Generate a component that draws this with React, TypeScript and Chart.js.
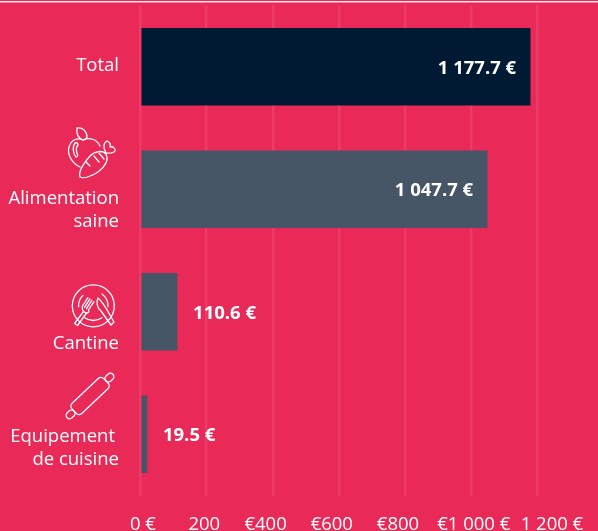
import React, { useEffect, useRef } from "react";
import { Chart, registerables } from "chart.js";

Chart.register(...registerables);

const categories = ["Total", "Alimentation saine", "Cantine", "Equipement de cuisine"];
const values = [1177.7, 1047.7, 110.6, 19.5];
const valueLabels = ["1 177.7 €", "1 047.7 €", "110.6 €", "19.5 €"];
const barColors = ["#001a33", "#465666", "#465666", "#465666"];
const axisLabels = ["0 €", "200", "€400", "€600", "€800", "€1 000 €", "1 200 €"];
const axisLead = [1, 0, 0, 0, 0, 1, 6];
const axisTrail = [0, 1, 3, 3, 3, 0, 0];
const categoryLines = [["Total"], ["Alimentation", "saine"], ["Cantine"], ["Equipement", "de cuisine"]];
const categoryLineY = [[65.5], [198.5, 221.5], [343.5], [436.5, 459.5]];
const categoryLineX = [[119], [119, 119], [119], [115, 119]];

const BG = "#e92958";
const FONT = "'Open Sans', sans-serif";
const TEXT_SIZE = 18.5;

function drawIcons(ctx: CanvasRenderingContext2D) {
  ctx.save();
  ctx.strokeStyle = "#fff";
  ctx.lineWidth = 1.3;
  ctx.lineCap = "round";
  ctx.lineJoin = "round";
  const paths = [
    // apple and carrot
    "M80 167 C71 163 67 153 69 147 C71 140 77 137 83 140 C89 137 97 139 100 146",
    "M83 140 C78 138 76 134 77 128 C82 127 87 131 87 137 C86 139 85 140 83 140",
    "M75 143 C72 147 73 153 76 157 C78 157 78 155 77 153 C76 150 76 147 78 145 C78 143 76 142 75 143",
    "M80 177 C78 172 84 163 90 156 C95 151 103 150 106 154 C109 160 105 167 98 172 C92 176 84 179 80 177 Z",
    "M106 153 C103 148 103 143 107 141 C110 142 111 145 110 147 C113 146 116 149 115 151 C113 154 109 153 106 153",
    "M86 162 L90 166 M94 156 L99 162 M99 153 L104 159",
    // fork
    "M83.5 311.5 L74.5 323.5 L77.5 325.5 L86.5 313",
    "M82.5 306 L87.9 297.6 M84.5 307.3 L89.9 298.9 M86.5 308.6 L91.9 300.2 M88.5 310 L93.9 301.6",
    "M82.5 306 C81.5 309 83 312 86.5 313 C88 313 89.5 312 88.5 310",
    // knife
    "M98 298 C105 304 109 314 114 322 L111 325 L101 311 C97 308 96 302 98 298 Z",
  ];
  paths.forEach((d) => ctx.stroke(new Path2D(d)));
  // plate
  ctx.beginPath();
  ctx.arc(93.3, 305.8, 21, 0, Math.PI * 2);
  ctx.stroke();
  ctx.beginPath();
  ctx.arc(93.3, 305.8, 14.7, Math.PI * 0.3, Math.PI * 0.7);
  ctx.stroke();
  ctx.beginPath();
  ctx.arc(93.3, 305.8, 14.7, Math.PI * 0.98, Math.PI * 1.25);
  ctx.stroke();
  ctx.beginPath();
  ctx.arc(93.3, 305.8, 14.7, Math.PI * 1.7, Math.PI * 2.02);
  ctx.stroke();
  // rolling pin
  ctx.save();
  ctx.translate(90, 396);
  ctx.rotate((-43.5 * Math.PI) / 180);
  ctx.beginPath();
  ctx.roundRect(-22, -7, 44, 14, 4);
  ctx.stroke();
  ctx.beginPath();
  ctx.roundRect(22, -3.5, 9.5, 7, 3.5);
  ctx.stroke();
  ctx.beginPath();
  ctx.roundRect(-31.5, -3.5, 9.5, 7, 3.5);
  ctx.stroke();
  ctx.restore();
  ctx.restore();
}

const decoration = {
  id: "decoration",
  beforeDraw(chart: any) {
    const { ctx, width, height } = chart;
    ctx.save();
    ctx.fillStyle = BG;
    ctx.fillRect(0, 0, width, height);
    ctx.fillStyle = "#fde3ea";
    ctx.fillRect(0, 1, width, 1.5);
    ctx.restore();
  },
  afterDraw(chart: any) {
    const { ctx } = chart;
    const x = chart.scales.x;
    const meta = chart.getDatasetMeta(0);
    ctx.save();
    ctx.fillStyle = "#fff";
    ctx.textBaseline = "middle";
    ctx.font = `${TEXT_SIZE}px ${FONT}`;
    ctx.textAlign = "right";
    categoryLines.forEach((lines, i) => {
      lines.forEach((line, j) => {
        ctx.fillText(line, categoryLineX[i][j], categoryLineY[i][j]);
      });
    });
    ctx.font = `bold ${TEXT_SIZE}px ${FONT}`;
    values.forEach((v, i) => {
      const end = x.getPixelForValue(v);
      const inside = v > 500;
      ctx.textAlign = inside ? "right" : "left";
      ctx.fillText(valueLabels[i], end + (inside ? -14 : 16), meta.data[i].y + 1.5);
    });
    ctx.restore();
    drawIcons(ctx);
  },
};

export default function App() {
  const ref = useRef<HTMLCanvasElement>(null);
  useEffect(() => {
    document.body.style.margin = "0";
    document.body.style.background = BG;
    const chart = new Chart(ref.current!, {
      type: "bar",
      data: {
        labels: categories,
        datasets: [
          {
            data: values,
            base: 4,
            backgroundColor: barColors,
            barThickness: 77,
            borderWidth: 0,
          },
        ],
      },
      options: {
        indexAxis: "y",
        animation: false,
        responsive: false,
        layout: { padding: { left: 140.5, right: 60.5, top: 5.5, bottom: 0 } },
        plugins: { legend: { display: false }, tooltip: { enabled: false } },
        scales: {
          x: {
            type: "linear",
            min: 0,
            max: 1200,
            afterFit: (s: any) => {
              s.height = 35.5;
              s.paddingLeft = 0;
              s.paddingRight = 0;
            },
            grid: {
              color: "rgba(255,255,255,0.09)",
              lineWidth: 2.5,
              drawTicks: false,
            },
            border: { display: false },
            ticks: {
              stepSize: 200,
              maxRotation: 0,
              autoSkip: false,
              padding: 18,
              color: "#fff",
              font: { family: FONT, size: TEXT_SIZE },
              callback: (_v: any, i: number) =>
                " ".repeat(axisLead[i]) + axisLabels[i] + " ".repeat(axisTrail[i]),
            },
          },
          y: {
            type: "category",
            afterFit: (s: any) => {
              s.width = 0;
            },
            grid: { display: false },
            border: { display: false },
            ticks: { display: false },
          },
        },
      },
      plugins: [decoration],
    } as any);
    return () => chart.destroy();
  }, []);
  return <canvas ref={ref} width={598} height={531} style={{ display: "block" }} />;
}
